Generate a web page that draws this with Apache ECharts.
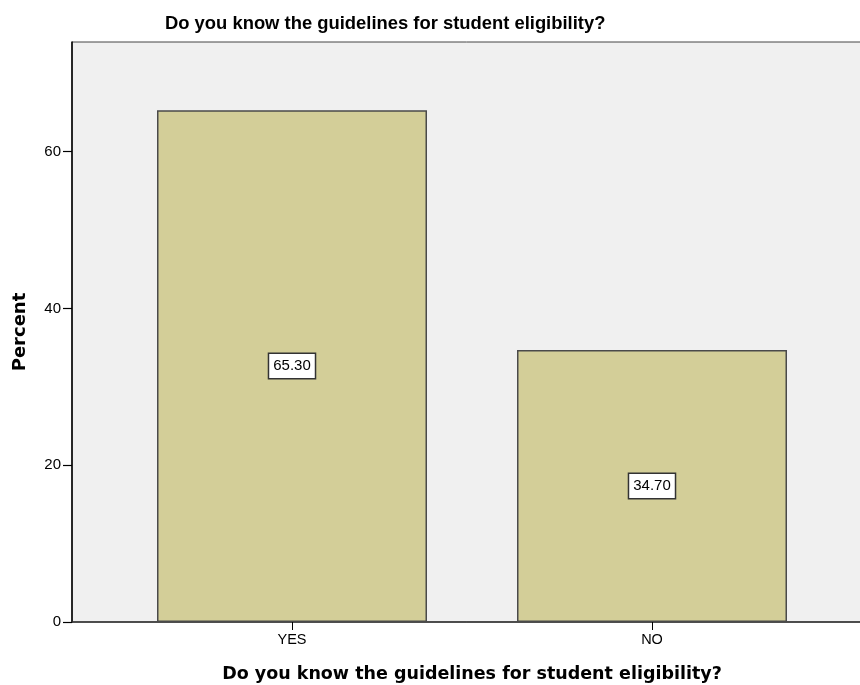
<!DOCTYPE html>
<html>
<head>
<meta charset="utf-8">
<script src="https://cdn.jsdelivr.net/npm/echarts@6/dist/echarts.min.js"></script>
<style>
html,body{margin:0;padding:0;background:#fff;}
#chart{width:860px;height:685px;}
</style>
</head>
<body>
<div id="chart"></div>
<script>
const titleText = "Do you know the guidelines for student eligibility?";
const xAxisTitle = "Do you know the guidelines for student eligibility?";
const yAxisTitle = "Percent";
const categories = ["YES", "NO"];
const percentValues = [65.30, 34.70];
const yTicks = [0, 20, 40, 60];
const yMax = 74;

const FONT = "Liberation Sans, Arial, sans-serif";
const FONT2 = "DejaVu Sans, Verdana, sans-serif";
const chart = echarts.init(document.getElementById('chart'));
chart.setOption({
  animation: false,
  backgroundColor: '#ffffff',
  graphic: [{
    type: 'text',
    left: 165,
    top: 15,
    style: { text: titleText, font: 'bold 18.4px ' + FONT, fill: '#000' }
  }],
  grid: [
    { left: 72, right: -2, top: 42, bottom: 63, outerBoundsMode: 'none', containLabel: false,
      show: true, backgroundColor: '#f0f0f0', borderColor: '#444', borderWidth: 1 },
    { left: 112, right: 28, top: 42, bottom: 63, outerBoundsMode: 'none', containLabel: false }
  ],
  xAxis: [
    { gridIndex: 0, type: 'value', min: 0, max: 1, axisLine: { show: true, onZero: false, lineStyle: { color: '#333', width: 1.5 } },
      axisTick: { show: false }, axisLabel: { show: false }, splitLine: { show: false } },
    { gridIndex: 1, type: 'category', data: categories, axisLine: { show: false },
      axisTick: { show: true, alignWithLabel: true, length: 8, lineStyle: { color: '#000' } },
      axisLabel: { fontFamily: FONT, fontSize: 14.5, color: '#000', margin: 10 },
      name: xAxisTitle, nameLocation: 'middle', nameGap: 43,
      nameTextStyle: { fontFamily: FONT2, fontSize: 17.5, fontWeight: 'bold', color: '#000' } }
  ],
  yAxis: [
    { gridIndex: 0, type: 'value', min: 0, max: yMax, interval: 20,
      axisLine: { show: true, lineStyle: { color: '#000', width: 1.5 } },
      axisTick: { show: true, length: 9, lineStyle: { color: '#000', width: 1.2 } },
      axisLabel: { fontFamily: FONT, fontSize: 15, color: '#000', margin: 11,
        showMaxLabel: false,
        formatter: v => yTicks.indexOf(v) >= 0 ? String(v) : '' },
      splitLine: { show: false },
      name: yAxisTitle, nameLocation: 'middle', nameGap: 43,
      nameTextStyle: { fontFamily: FONT2, fontSize: 18, fontWeight: 'bold', color: '#000' } },
    { gridIndex: 1, type: 'value', min: 0, max: yMax, show: false }
  ],
  series: [{
    type: 'bar',
    xAxisIndex: 1,
    yAxisIndex: 1,
    data: percentValues,
    barWidth: 270,
    itemStyle: { color: '#d3ce98', borderColor: '#4a4a4a', borderWidth: 1.5 },
    label: {
      show: true,
      position: 'inside',
      formatter: p => p.value.toFixed(2),
      fontFamily: FONT,
      fontSize: 15,
      color: '#000',
      backgroundColor: '#fff',
      borderColor: '#333',
      borderWidth: 1.5,
      padding: [5, 4, 4, 4]
    }
  }]
});
</script>
</body>
</html>
